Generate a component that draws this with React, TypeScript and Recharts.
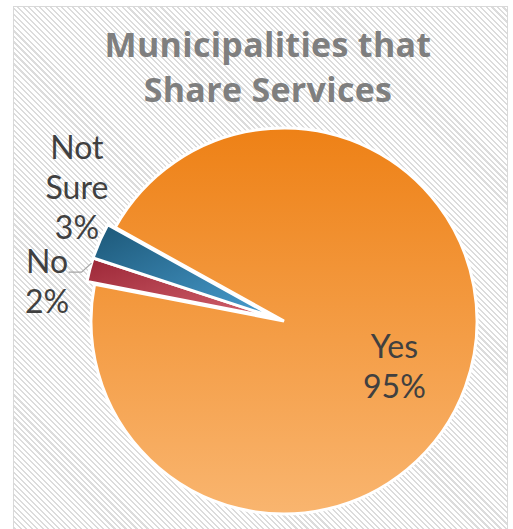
import { PieChart, Pie, Cell } from 'recharts';

// chart data
const categories = ['Yes', 'No', 'Not Sure'];
const shares = [95, 2, 3];
const percentLabels = ['95%', '2%', '3%'];
const explodedCategories = ['No', 'Not Sure'];
const titleLines = ['Municipalities that', 'Share Services'];

const data = categories.map((name, i) => ({ name, value: shares[i], pct: percentLabels[i] }));

const W = 513;
const H = 529;
const CX = 284;
const CY = 321;
const R = 193;
const START = 151;
const EXPLODE = 8;
const RAD = Math.PI / 180;

const gradients: Record<string, [string, string, number, number]> = {
  Yes: ['#ee8116', '#f9b56f', 0, 1],
  No: ['#9c2737', '#d4646f', 1, 1],
  'Not Sure': ['#1c5777', '#4a9fd2', 1, 1],
};

const gradId = (name: string) => 'grad-' + name.replace(/\s/g, '');

// label placement (radius factor along the slice mid angle + nudge of the text block)
const labelStyle: Record<string, { rf: number; dx: number; dy: number }> = {
  Yes: { rf: 0.62, dx: -2, dy: 5 },
  No: { rf: 1.1, dx: -24, dy: 17 },
  'Not Sure': { rf: 1.1, dx: -5, dy: -46 },
};

const total = shares.reduce((a, b) => a + b, 0);
const explodedMid = (() => {
  const first = categories.findIndex((c) => explodedCategories.includes(c));
  const before = shares.slice(0, first).reduce((a, b) => a + b, 0);
  const group = shares
    .filter((_, i) => explodedCategories.includes(categories[i]))
    .reduce((a, b) => a + b, 0);
  return START - (360 * (before + group / 2)) / total;
})();
const ECX = CX + EXPLODE * Math.cos(explodedMid * RAD);
const ECY = CY - EXPLODE * Math.sin(explodedMid * RAD);

const FONT = 'Lato, "Open Sans", sans-serif';
const LABEL_SIZE = 32;
const LINE = 40;

function polar(cx: number, cy: number, r: number, angle: number) {
  return { x: cx + r * Math.cos(-angle * RAD), y: cy + r * Math.sin(-angle * RAD) };
}

function renderLabel(show: string[]) {
  return (props: any) => {
    const { cx, cy, midAngle, outerRadius, name, payload } = props;
    if (!show.includes(name)) return null;
    const st = labelStyle[name];
    const p = polar(cx, cy, outerRadius * st.rf, midAngle);
    const centerX = p.x + st.dx;
    const centerY = p.y + st.dy;
    const words = name === 'Not Sure' ? name.split(' ') : [name];
    const lines = [...words, payload.pct ?? ''];
    const firstBase = centerY - ((lines.length - 1) * LINE) / 2 + LABEL_SIZE * 0.36;
    let leader = null;
    if (name === 'No') {
      const end = polar(cx, cy, outerRadius, midAngle - 2);
      const y = end.y + 9;
      leader = (
        <polyline
          points={`${end.x - 23},${y} ${end.x - 10},${y} ${end.x},${end.y}`}
          fill="none"
          stroke="#a6a6a6"
          strokeWidth={1.3}
        />
      );
    }
    return (
      <g>
        {leader}
        <text
          x={centerX}
          y={firstBase}
          textAnchor="middle"
          fill="#404040"
          fontSize={LABEL_SIZE}
          fontFamily={FONT}
        >
          {lines.map((l, i) => (
            <tspan key={l} x={centerX} y={firstBase + i * LINE}>
              {l}
            </tspan>
          ))}
        </text>
      </g>
    );
  };
}

export default function App() {
  return (
    <div style={{ position: 'absolute', left: 0, top: 0, width: W, height: H, background: '#fff', overflow: 'hidden' }}>
      <div
        style={{
          position: 'absolute',
          left: 13,
          top: 6,
          width: 493,
          height: 560,
          border: '1.5px solid #d9d9d9',
          background: 'repeating-linear-gradient(45deg, #dcdcdc 0px, #dcdcdc 1.5px, #ffffff 1.5px, #ffffff 3.9px)',
        }}
      />
      <svg width={W} height={H} style={{ position: 'absolute', left: 0, top: 0 }}>
        {titleLines.map((t, i) => (
          <text
            key={t}
            x={268}
            y={57 + i * 45}
            textAnchor="middle"
            fill="#7f7f7f"
            fontSize={34}
            fontWeight={700}
            letterSpacing={0.3}
            fontFamily='"Open Sans", Lato, sans-serif'
          >
            {t}
          </text>
        ))}
      </svg>
      <div style={{ position: 'absolute', left: 0, top: 0 }}>
        <PieChart width={W} height={H} margin={{ top: 0, right: 0, bottom: 0, left: 0 }}>
          <defs>
            {categories.map((c) => {
              const [from, to, x2, y2] = gradients[c];
              return (
                <linearGradient key={c} id={gradId(c)} x1="0" y1="0" x2={x2} y2={y2}>
                  <stop offset="0%" stopColor={from} />
                  <stop offset="100%" stopColor={to} />
                </linearGradient>
              );
            })}
          </defs>
          <Pie
            data={data}
            dataKey="value"
            nameKey="name"
            cx={CX}
            cy={CY}
            outerRadius={R}
            startAngle={START}
            endAngle={START - 360}
            stroke="#ffffff"
            strokeWidth={3}
            label={renderLabel(['Yes'])}
            labelLine={false}
            isAnimationActive={false}
          >
            {data.map((d) => (
              <Cell
                key={d.name}
                fill={explodedCategories.includes(d.name) ? 'none' : `url(#${gradId(d.name)})`}
                stroke={explodedCategories.includes(d.name) ? 'none' : '#ffffff'}
              />
            ))}
          </Pie>
          <Pie
            data={data}
            dataKey="value"
            nameKey="name"
            cx={ECX}
            cy={ECY}
            outerRadius={R}
            startAngle={START}
            endAngle={START - 360}
            stroke="#ffffff"
            strokeWidth={3}
            label={renderLabel(explodedCategories)}
            labelLine={false}
            isAnimationActive={false}
          >
            {data.map((d) => (
              <Cell
                key={d.name}
                fill={explodedCategories.includes(d.name) ? `url(#${gradId(d.name)})` : 'none'}
                stroke={explodedCategories.includes(d.name) ? '#ffffff' : 'none'}
              />
            ))}
          </Pie>
        </PieChart>
      </div>
    </div>
  );
}
